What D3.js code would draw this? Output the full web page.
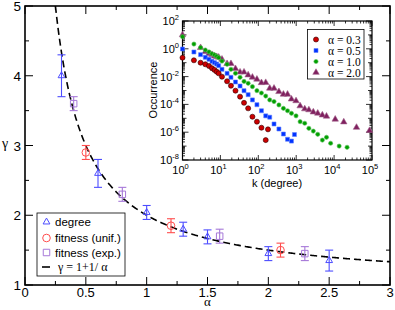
<!DOCTYPE html>
<html>
<head>
<meta charset="utf-8">
<script src="https://cdn.jsdelivr.net/npm/d3@7"></script>
<style>
  body { margin: 0; background: #fff; }
  text { font-family: "Liberation Sans", Arial, sans-serif; }
  .serif { font-family: "Liberation Serif", "Times New Roman", serif; }
</style>
</head>
<body>
<svg id="chart" width="395" height="310"></svg>
<script>
// main panel data: gamma vs alpha with error bars
const degAlpha = [0.3, 0.6, 1.0, 1.3, 1.5, 2.0, 2.5];
const degGamma = [4.0, 2.6, 2.04, 1.8, 1.69, 1.45, 1.35];
const degErr   = [0.3, 0.2, 0.1, 0.1, 0.1, 0.1, 0.15];

const unifAlpha = [0.5, 1.2, 2.1];
const unifGamma = [2.9, 1.85, 1.5];
const unifErr   = [0.1, 0.1, 0.1];

const expAlpha = [0.4, 0.8, 1.6, 2.3];
const expGamma = [3.6, 2.3, 1.7, 1.45];
const expErr   = [0.1, 0.1, 0.1, 0.1];

const xTicks = [0, 0.5, 1, 1.5, 2, 2.5, 3];
const yTicks = [1, 2, 3, 4, 5];

// inset data: degree distributions
const k03 = [1, 2, 3, 4, 5, 6, 7, 8, 9, 11, 15, 19, 25, 33, 42, 54, 70, 92, 121, 157, 180];
const p03 = [0.23, 0.149, 0.10, 0.077, 0.058, 0.040, 0.030, 0.0225, 0.0173, 0.0098, 0.0046, 0.0022,
             9.7e-4, 3.6e-4, 1.3e-4, 5.2e-5, 1.3e-5, 5.7e-6, 2.1e-6, 2.7e-7, 1.6e-6];

const k05 = [1, 2, 3, 4, 5, 6, 7, 8, 9, 11, 15, 19, 25, 33, 42, 54, 70, 92, 121, 157, 200, 260, 350, 460, 590, 750, 900];
const p05 = [0.97, 0.59, 0.38, 0.245, 0.176, 0.126, 0.10, 0.080, 0.061, 0.0335, 0.0173, 0.0089, 0.0041,
             0.0021, 9.7e-4, 5.0e-4, 2.1e-4, 9.5e-5, 3.5e-5, 1.5e-5, 1.2e-5, 3.9e-6, 1.7e-6, 7.4e-7,
             3.1e-7, 2.3e-7, 6.8e-7];

const k10 = [1, 2, 3, 4, 5, 6, 7, 8, 9, 11, 15, 19, 25, 33, 42, 54, 70, 92, 121, 157, 200, 260, 350, 460,
             590, 750, 990, 1270, 1680, 2160, 2830, 3700, 4900, 6300, 8100, 13600, 22000];
const p10 = [7.4, 2.2, 1.24, 0.82, 0.59, 0.44, 0.36, 0.29, 0.23, 0.13, 0.077, 0.0335, 0.0173, 0.0089,
             0.0045, 0.0033, 0.0019, 9.7e-4, 6.6e-4, 4.0e-4, 2.1e-4, 1.6e-4, 9.1e-5, 5.2e-5, 3.5e-5,
             2.3e-5, 1.5e-5, 5.7e-6, 4.4e-6, 1.9e-6, 1.2e-6, 7.1e-7, 2.7e-7, 4.3e-7, 1.6e-7, 1.0e-7, 8.2e-8];

const k20 = [1, 3, 4, 5, 6, 7, 8, 9, 11, 15, 19, 25, 33, 42, 54, 70, 92, 121, 157, 200, 260, 350, 460,
             590, 750, 990, 1270, 1680, 2160, 2830, 3700, 4900, 6300, 10700, 18000, 39000, 86000];
const p20 = [10, 1.2, 0.62, 0.44, 0.38, 0.30, 0.27, 0.245, 0.176, 0.085, 0.085, 0.037, 0.021, 0.021,
             0.013, 0.0089, 0.0064, 0.0036, 0.0037, 0.00144, 0.00144, 8.2e-4, 5.3e-4, 5.3e-4, 2.4e-4,
             1.8e-4, 7.7e-5, 4.7e-5, 4.0e-5, 2.8e-5, 2.3e-5, 1.7e-5, 1.4e-5, 8.5e-6, 5.4e-6, 2.2e-6, 1.3e-6];

const svg = d3.select('#chart');

// ---------- main panel ----------
const x = d3.scaleLinear().domain([0, 3]).range([25, 390]);
const y = d3.scaleLinear().domain([1, 5]).range([285, 6]);

const main = svg.append('g');

main.append('rect')
  .attr('x', x(0)).attr('y', y(5))
  .attr('width', x(3) - x(0)).attr('height', y(1) - y(5))
  .attr('fill', 'none').attr('stroke', '#000').attr('stroke-width', 1.6);

// ticks inward on all sides
const xMinor = d3.range(0.25, 3, 0.5);
const yMinor = d3.range(1.5, 5, 1);
xTicks.forEach(t => {
  main.append('line').attr('x1', x(t)).attr('x2', x(t)).attr('y1', y(1)).attr('y2', y(1) - 8).attr('stroke', '#000');
  main.append('line').attr('x1', x(t)).attr('x2', x(t)).attr('y1', y(5)).attr('y2', y(5) + 8).attr('stroke', '#000');
});
xMinor.forEach(t => {
  main.append('line').attr('x1', x(t)).attr('x2', x(t)).attr('y1', y(1)).attr('y2', y(1) - 4).attr('stroke', '#000');
  main.append('line').attr('x1', x(t)).attr('x2', x(t)).attr('y1', y(5)).attr('y2', y(5) + 4).attr('stroke', '#000');
});
yTicks.forEach(t => {
  main.append('line').attr('x1', x(0)).attr('x2', x(0) + 8).attr('y1', y(t)).attr('y2', y(t)).attr('stroke', '#000');
  main.append('line').attr('x1', x(3)).attr('x2', x(3) - 8).attr('y1', y(t)).attr('y2', y(t)).attr('stroke', '#000');
});
yMinor.forEach(t => {
  main.append('line').attr('x1', x(0)).attr('x2', x(0) + 4).attr('y1', y(t)).attr('y2', y(t)).attr('stroke', '#000');
  main.append('line').attr('x1', x(3)).attr('x2', x(3) - 4).attr('y1', y(t)).attr('y2', y(t)).attr('stroke', '#000');
});

main.selectAll('.xl').data(xTicks).enter().append('text')
  .attr('x', d => x(d)).attr('y', 297)
  .attr('text-anchor', 'middle').style('font-size', '13px')
  .text(d => d);
main.selectAll('.yl').data(yTicks).enter().append('text')
  .attr('x', 21).attr('y', d => y(d) + 5)
  .attr('text-anchor', 'end').style('font-size', '13.5px')
  .text(d => d);

main.append('text').attr('class', 'serif').attr('x', 5).attr('y', 148)
  .attr('text-anchor', 'middle').style('font-size', '14px').text('γ');
main.append('text').attr('class', 'serif').attr('x', x(1.5)).attr('y', 306)
  .attr('text-anchor', 'middle').style('font-size', '13px').text('α');

// theory curve
const curveA = d3.range(0.25, 3.001, 0.01);
main.append('path')
  .datum(curveA)
  .attr('d', d3.line().x(a => x(a)).y(a => y(1 + 1 / a)))
  .attr('fill', 'none').attr('stroke', '#000').attr('stroke-width', 1.6)
  .attr('stroke-dasharray', '7,4');

function errorBars(xs, ys, es, color) {
  xs.forEach((a, i) => {
    const g = main.append('g').attr('stroke', color).attr('stroke-width', 1.1);
    g.append('line').attr('x1', x(a)).attr('x2', x(a)).attr('y1', y(ys[i] - es[i])).attr('y2', y(ys[i] + es[i]));
    g.append('line').attr('x1', x(a) - 4).attr('x2', x(a) + 4).attr('y1', y(ys[i] - es[i])).attr('y2', y(ys[i] - es[i]));
    g.append('line').attr('x1', x(a) - 4).attr('x2', x(a) + 4).attr('y1', y(ys[i] + es[i])).attr('y2', y(ys[i] + es[i]));
  });
}

const cDeg = '#4d4dff', cUnif = '#ff4d4d', cExp = '#a678d8';
errorBars(degAlpha, degGamma, degErr, cDeg);
errorBars(unifAlpha, unifGamma, unifErr, cUnif);
errorBars(expAlpha, expGamma, expErr, cExp);

const tri = d3.symbol().type(d3.symbolTriangle).size(20);
const sq = d3.symbol().type(d3.symbolSquare).size(42);

main.selectAll('.deg').data(degAlpha).enter().append('path')
  .attr('d', tri).attr('transform', (d, i) => `translate(${x(d)},${y(degGamma[i])})`)
  .attr('fill', 'none').attr('stroke', cDeg).attr('stroke-width', 1);
main.selectAll('.unif').data(unifAlpha).enter().append('circle')
  .attr('cx', d => x(d)).attr('cy', (d, i) => y(unifGamma[i])).attr('r', 3.8)
  .attr('fill', 'none').attr('stroke', cUnif).attr('stroke-width', 1);
main.selectAll('.exp').data(expAlpha).enter().append('path')
  .attr('d', sq).attr('transform', (d, i) => `translate(${x(d)},${y(expGamma[i])})`)
  .attr('fill', 'none').attr('stroke', cExp).attr('stroke-width', 1);

// main legend
const leg = main.append('g');
leg.append('rect').attr('x', 37).attr('y', 213).attr('width', 88).attr('height', 63)
  .attr('fill', '#fff').attr('stroke', '#000').attr('stroke-width', 0.8);
const legY = [222, 238, 252.5, 267];
leg.append('path').attr('d', tri).attr('transform', `translate(46.5,${legY[0]})`)
  .attr('fill', 'none').attr('stroke', cDeg);
leg.append('circle').attr('cx', 46.5).attr('cy', legY[1]).attr('r', 3.8)
  .attr('fill', 'none').attr('stroke', cUnif);
leg.append('path').attr('d', sq).attr('transform', `translate(46.5,${legY[2]})`)
  .attr('fill', 'none').attr('stroke', cExp);
leg.append('line').attr('x1', 42).attr('x2', 50).attr('y1', legY[3]).attr('y2', legY[3])
  .attr('stroke', '#000').attr('stroke-width', 1.6);
['degree', 'fitness (unif.)', 'fitness (exp.)'].forEach((t, i) => {
  leg.append('text').attr('x', 55).attr('y', legY[i] + 4).style('font-size', '11.5px').text(t);
});
leg.append('text').attr('class', 'serif').attr('x', 58).attr('y', legY[3] + 4)
  .style('font-size', '12px').text('γ = 1+1/ α');

// ---------- inset ----------
const ix = d3.scaleLog().domain([1, 1e5]).range([182.5, 372]);
const iy = d3.scaleLog().domain([1e-8, 1e2]).range([160, 21]);
const ins = svg.append('g');

ins.append('rect').attr('x', ix(1)).attr('y', iy(1e2))
  .attr('width', ix(1e5) - ix(1)).attr('height', iy(1e-8) - iy(1e2))
  .attr('fill', '#fff').attr('stroke', '#000').attr('stroke-width', 1.2);

const xDec = d3.range(0, 6);
const yDec = d3.range(-8, 3);
xDec.forEach(e => {
  for (let m = 1; m <= 9; m++) {
    const v = m * Math.pow(10, e);
    if (v > 1e5) break;
    const len = m === 1 ? 5 : 2.5;
    ins.append('line').attr('x1', ix(v)).attr('x2', ix(v)).attr('y1', iy(1e-8)).attr('y2', iy(1e-8) - len).attr('stroke', '#000').attr('stroke-width', 0.8);
    ins.append('line').attr('x1', ix(v)).attr('x2', ix(v)).attr('y1', iy(1e2)).attr('y2', iy(1e2) + len).attr('stroke', '#000').attr('stroke-width', 0.8);
  }
});
yDec.forEach(e => {
  for (let m = 1; m <= 9; m++) {
    const v = m * Math.pow(10, e);
    if (v > 1e2) break;
    const len = m === 1 ? (e % 2 === 0 ? 6 : 4) : 2.5;
    ins.append('line').attr('x1', ix(1)).attr('x2', ix(1) + len).attr('y1', iy(v)).attr('y2', iy(v)).attr('stroke', '#000').attr('stroke-width', 0.8);
    ins.append('line').attr('x1', ix(1e5)).attr('x2', ix(1e5) - len).attr('y1', iy(v)).attr('y2', iy(v)).attr('stroke', '#000').attr('stroke-width', 0.8);
  }
});

xDec.forEach(e => {
  const t = ins.append('text').attr('x', ix(Math.pow(10, e)) - 2).attr('y', 174)
    .attr('text-anchor', 'middle').style('font-size', '11px');
  t.append('tspan').text('10');
  t.append('tspan').attr('dy', -5).style('font-size', '7.5px').text(e);
});
yDec.filter(e => e % 2 === 0).forEach(e => {
  const t = ins.append('text').attr('x', 179).attr('y', iy(Math.pow(10, e)) + 4)
    .attr('text-anchor', 'end').style('font-size', '11px');
  t.append('tspan').text('10');
  t.append('tspan').attr('dy', -5).style('font-size', '7.5px').text(e);
});

ins.append('text').attr('x', 277).attr('y', 187).attr('text-anchor', 'middle')
  .style('font-size', '11px').text('k (degree)');
ins.append('text').attr('transform', 'translate(157,90) rotate(-90)').attr('text-anchor', 'middle')
  .style('font-size', '11px').text('Occurrence');

const cR = '#cc0000', cB = '#0033ff', cG = '#00a000', cP = '#80205f';
const itri = d3.symbol().type(d3.symbolTriangle).size(18);
const isq = d3.symbol().type(d3.symbolSquare).size(16);
const idia = d3.symbol().type(d3.symbolCircle).size(14);
const icirc = d3.symbol().type(d3.symbolCircle).size(20);

function insetSeries(ks, ps, sym, fill, stroke) {
  ins.append('g').selectAll('path').data(ks).enter().append('path')
    .attr('d', sym)
    .attr('transform', (d, i) => `translate(${ix(d)},${iy(ps[i])})`)
    .attr('fill', fill).attr('stroke', stroke).attr('stroke-width', 0.6);
}
insetSeries(k20, p20, itri, cP, '#a0608a');
insetSeries(k10, p10, idia, cG, '#60c060');
insetSeries(k05, p05, isq, cB, '#6080ff');
insetSeries(k03, p03, icirc, cR, '#300000');

// inset legend
const il = ins.append('g');
il.append('rect').attr('x', 307.5).attr('y', 29.5).attr('width', 56.5).attr('height', 49.5)
  .attr('fill', '#fff').attr('stroke', '#000').attr('stroke-width', 0.8);
const ilY = [39.5, 50.5, 61.5, 72.5];
const ilSym = [icirc, isq, idia, itri];
const ilFill = [cR, cB, cG, cP];
const ilStroke = ['#300000', '#6080ff', '#60c060', '#a0608a'];
['α = 0.3', 'α = 0.5', 'α = 1.0', 'α = 2.0'].forEach((t, i) => {
  il.append('path').attr('d', ilSym[i]).attr('transform', `translate(316,${ilY[i]})`)
    .attr('fill', ilFill[i]).attr('stroke', ilStroke[i]).attr('stroke-width', 0.6);
  il.append('text').attr('class', 'serif').attr('x', 328).attr('y', ilY[i] + 4)
    .style('font-size', '11.5px').text(t);
});
</script>
</body>
</html>
